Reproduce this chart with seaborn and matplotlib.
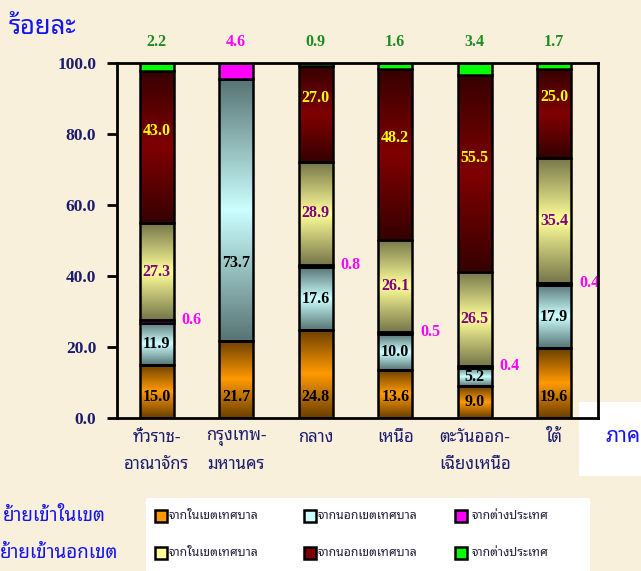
import numpy as np
import matplotlib
matplotlib.use('Agg')
import matplotlib.pyplot as plt
from matplotlib.colors import LinearSegmentedColormap
from matplotlib.patches import Rectangle
import seaborn as sns

# ภาค (regions)
regions = ['ทั่วราช-\nอาณาจักร', 'กรุงเทพ-\nมหานคร', 'กลาง', 'เหนือ',
           'ตะวันออก-\nเฉียงเหนือ', 'ใต้']

# ย้ายเข้าในเขตเทศบาล (%)
in_from_muni = [15.0, 21.7, 24.8, 13.6, 9.0, 19.6]
in_from_nonmuni = [11.9, 73.7, 17.6, 10.0, 5.2, 17.9]
in_from_abroad = [0.6, 4.6, 0.8, 0.5, 0.4, 0.4]

# ย้ายเข้านอกเขตเทศบาล (%) - Bangkok has none
out_from_muni = [27.3, np.nan, 28.9, 26.1, 26.5, 35.4]
out_from_nonmuni = [43.0, np.nan, 27.0, 48.2, 55.5, 25.0]
out_from_abroad = [2.2, np.nan, 0.9, 1.6, 3.4, 1.7]

legend_labels = ['จากในเขตเทศบาล', 'จากนอกเขตเทศบาล', 'จากต่างประเทศ']
row_labels = ['ย้ายเข้าในเขต', 'ย้ายเข้านอกเขต']
yticks = [0, 20, 40, 60, 80, 100]

BG = '#F8F0DA'
NAVY = '#1C1C6E'
BLUE = '#1414F0'
W, H = 641, 571

sns.set_theme(style='ticks')
plt.rcParams['font.family'] = ['Liberation Serif', 'Noto Sans Thai Looped', 'DejaVu Sans']
plt.rcParams['font.weight'] = 'bold'


def px(x, y):
    return x / W, 1 - y / H


fig = plt.figure(figsize=(W / 100, H / 100), dpi=100, facecolor=BG)

# white boxes behind the chart (region label and legend)
fig.patches.append(Rectangle(px(579, 476), (W - 579) / W, 74 / H, transform=fig.transFigure,
                             facecolor='white', edgecolor='none', zorder=-1))
fig.patches.append(Rectangle(px(146, 571), 444 / W, 73 / H, transform=fig.transFigure,
                             facecolor='white', edgecolor='none', zorder=-1))

x0, y0 = px(117, 418)
x1, y1 = px(598, 63)
ax = fig.add_axes([x0, y0, x1 - x0, y1 - y0])
ax.set_facecolor('none')

# (values, gradient dark, gradient light)
layers = [
    (in_from_muni, '#6A3E00', '#FF9A00'),
    (in_from_nonmuni, '#587474', '#CCFFFF'),
    (in_from_abroad, '#FF00FF', '#FF00FF'),
    (out_from_muni, '#76764A', '#FFFF99'),
    (out_from_nonmuni, '#360000', '#800000'),
    (out_from_abroad, '#00FF00', '#00FF00'),
]

grad = np.linspace(0, 1, 200).reshape(-1, 1)
bottom = np.zeros(len(regions))
tops = []
for k, (vals, dark, light) in enumerate(layers):
    v = np.nan_to_num(np.array(vals, dtype=float))
    sns.barplot(x=regions, y=v, bottom=bottom, color=light, saturation=1, width=0.43,
                edgecolor='black', linewidth=1.8, ax=ax, zorder=3)
    cmap = LinearSegmentedColormap.from_list(f'g{k}', [dark, light, dark])
    for p in ax.containers[-1]:
        h = p.get_height()
        if h <= 0:
            continue
        if dark != light:
            # vertical shading: dark edges, light middle
            ax.imshow(grad, cmap=cmap, origin='lower', aspect='auto', interpolation='bilinear',
                      extent=(p.get_x(), p.get_x() + p.get_width(), p.get_y(), p.get_y() + h),
                      zorder=2.5)
            p.set_facecolor('none')
        else:
            p.set_facecolor(light)
    tops.append(bottom + v)
    bottom = bottom + v

ax.set_xlim(-0.5, 5.55)
ax.set_ylim(0, 100)

# value labels
lab_kw = dict(ha='center', va='center', fontsize=11.5, fontweight='bold', zorder=5)
for i in range(len(regions)):
    v = in_from_muni[i]
    ax.text(i, min(v / 2, 6), f'{v:.1f}', color='black', **lab_kw)
    v = in_from_nonmuni[i]
    ax.text(i, tops[0][i] + min(v / 2, 22), f'{v:.1f}', color='black', **lab_kw)
    if not np.isnan(out_from_muni[i]):
        v = out_from_muni[i]
        ax.text(i, tops[2][i] + v / 2, f'{v:.1f}', color='#800080', **lab_kw)
        v = out_from_nonmuni[i]
        ax.text(i, tops[3][i] + v / 2 + 4.5, f'{v:.1f}', color='#FFFF00', **lab_kw)
        ax.text(i + 0.44, tops[2][i], f'{in_from_abroad[i]:.1f}', color='#FF00FF', **lab_kw)
        ax.text(i, 105.9, f'{out_from_abroad[i]:.1f}', color='#1E8C1E', clip_on=False, **lab_kw)
    else:
        ax.text(i, 105.9, f'{in_from_abroad[i]:.1f}', color='#FF00FF', clip_on=False, **lab_kw)

# axes styling
for s in ax.spines.values():
    s.set_color('black')
    s.set_linewidth(2)
    s.set_zorder(6)
ax.set_yticks(yticks)
ax.set_yticklabels([f'{t:.1f}' for t in yticks], fontsize=12.5, fontweight='bold', color=NAVY)
ax.tick_params(axis='y', direction='out', length=7, width=2, color='black', pad=8)
ax.set_xticks(range(len(regions)))
ax.set_xticklabels(regions, fontsize=12, fontweight='bold', color=NAVY, linespacing=1.9)
ax.tick_params(axis='x', length=0, pad=9)
ax.set_xlabel('')
ax.set_ylabel('')

# titles
fig.text(*px(9, 27), 'ร้อยละ', fontsize=18.5, fontweight='bold', color=BLUE, ha='left', va='center')
fig.text(*px(606, 437), 'ภาค', fontsize=15, fontweight='bold', color=BLUE, ha='left', va='center')

# legend
leg_cols = [('#FF9A00', '#CCFFFF', '#FF00FF'), ('#FFFF99', '#800000', '#00FF00')]
marker_x = [155, 304, 455]
text_x = [169, 318, 472]
row_y = [516, 553]
row_x = [3, 0]
for r in range(2):
    fig.text(*px(row_x[r], row_y[r]), row_labels[r], fontsize=13.5, fontweight='bold',
             color=BLUE, ha='left', va='center')
    for c in range(3):
        mx, my = px(marker_x[c], row_y[r] + 6)
        fig.patches.append(Rectangle((mx, my), 12 / W, 12 / H, transform=fig.transFigure,
                                     facecolor=leg_cols[r][c], edgecolor='black', linewidth=1.8))
        fig.text(*px(text_x[c], row_y[r]), legend_labels[c], fontsize=8.8, fontweight='bold',
                 color='#20203C', ha='left', va='center')

fig.savefig('out.png', dpi=100, facecolor=BG)
